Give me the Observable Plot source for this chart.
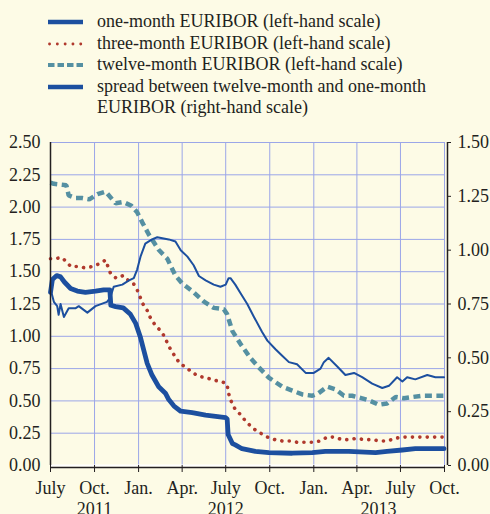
<!DOCTYPE html>
<html>
<head>
<meta charset="utf-8">
<script src="https://cdn.jsdelivr.net/npm/d3@7"></script>
<script src="https://cdn.jsdelivr.net/npm/@observablehq/plot@0.6"></script>
<style>
  html, body { margin: 0; padding: 0; background: #fdfbe6; }
  body { width: 490px; height: 514px; overflow: hidden; font-family: "Liberation Serif", serif; color: #231f20; }
  #legend { box-sizing: border-box; height: 128px; padding-top: 11px; font-size: 18px; line-height: 21.5px; }
  .row { display: flex; align-items: flex-start; margin-left: 48px; }
  .row svg { flex: none; margin-right: 14px; }
</style>
</head>
<body>
<div id="legend"></div>
<div id="chart"></div>
<script>
// ---- data ----
const oneMonth = [
  ["2011-07-01",1.34],["2011-07-05",1.44],["2011-07-14",1.47],["2011-07-22",1.46],["2011-07-30",1.42],
  ["2011-08-12",1.37],["2011-08-26",1.35],["2011-09-12",1.34],["2011-10-03",1.35],["2011-10-20",1.36],
  ["2011-11-02",1.36],["2011-11-04",1.24],["2011-11-14",1.23],["2011-11-30",1.22],["2011-12-15",1.17],
  ["2011-12-26",1.10],["2012-01-05",0.99],["2012-01-12",0.89],["2012-01-19",0.79],["2012-01-29",0.70],
  ["2012-02-12",0.61],["2012-02-26",0.56],["2012-03-04",0.51],["2012-03-15",0.46],["2012-03-29",0.42],
  ["2012-04-22",0.41],["2012-05-20",0.39],["2012-06-10",0.38],["2012-07-01",0.37],["2012-07-04",0.36],
  ["2012-07-06",0.24],["2012-07-15",0.17],["2012-07-21",0.16],["2012-08-04",0.13],["2012-09-01",0.11],
  ["2012-09-29",0.10],["2012-11-17",0.095],["2012-12-29",0.10],["2013-01-25",0.11],["2013-03-15",0.11],
  ["2013-05-10",0.10],["2013-06-03",0.11],["2013-07-05",0.12],["2013-08-01",0.13],["2013-09-30",0.13]
];
const threeMonth = [
  ["2011-07-01",1.60],["2011-07-10",1.60],["2011-07-24",1.61],["2011-08-03",1.58],["2011-08-12",1.54],
  ["2011-08-27",1.54],["2011-09-11",1.53],["2011-09-27",1.54],["2011-10-10",1.56],["2011-10-24",1.59],
  ["2011-11-03",1.49],["2011-11-15",1.45],["2011-11-30",1.47],["2011-12-08",1.44],["2011-12-21",1.41],
  ["2011-12-29",1.36],["2012-01-10",1.25],["2012-01-19",1.20],["2012-01-26",1.14],["2012-02-04",1.09],
  ["2012-02-14",1.05],["2012-02-24",1.00],["2012-03-02",0.94],["2012-03-09",0.89],["2012-03-18",0.84],
  ["2012-03-27",0.79],["2012-04-09",0.76],["2012-04-22",0.72],["2012-05-06",0.69],["2012-05-21",0.68],
  ["2012-06-06",0.66],["2012-06-22",0.65],["2012-07-04",0.63],["2012-07-06",0.57],["2012-07-11",0.51],
  ["2012-07-18",0.45],["2012-07-28",0.41],["2012-08-08",0.36],["2012-08-18",0.32],["2012-08-30",0.28],
  ["2012-09-12",0.25],["2012-09-26",0.22],["2012-10-12",0.20],["2012-10-27",0.19],["2012-11-12",0.19],
  ["2012-11-27",0.18],["2012-12-15",0.18],["2012-12-30",0.18],["2013-01-15",0.19],["2013-01-29",0.22],
  ["2013-02-13",0.22],["2013-03-01",0.20],["2013-03-15",0.20],["2013-03-31",0.21],["2013-04-17",0.20],
  ["2013-05-03",0.20],["2013-05-19",0.19],["2013-06-05",0.19],["2013-06-19",0.21],["2013-07-05",0.22],
  ["2013-07-21",0.22],["2013-08-06",0.22],["2013-08-22",0.22],["2013-09-09",0.22],["2013-09-30",0.22]
];
const twelveMonth = [
  ["2011-07-01",2.19],["2011-07-08",2.18],["2011-08-03",2.17],["2011-08-08",2.09],["2011-08-22",2.07],
  ["2011-09-05",2.07],["2011-09-20",2.06],["2011-10-07",2.10],["2011-10-24",2.12],["2011-11-14",2.03],
  ["2011-11-30",2.04],["2011-12-17",2.01],["2011-12-29",1.96],["2012-01-09",1.88],["2012-01-22",1.79],
  ["2012-02-12",1.67],["2012-03-01",1.60],["2012-03-18",1.47],["2012-04-01",1.41],["2012-04-25",1.34],
  ["2012-05-16",1.27],["2012-06-06",1.22],["2012-06-27",1.21],["2012-07-04",1.17],["2012-07-15",1.04],
  ["2012-08-01",0.94],["2012-08-22",0.83],["2012-09-08",0.76],["2012-09-29",0.68],["2012-10-27",0.61],
  ["2012-11-17",0.58],["2012-12-08",0.55],["2012-12-29",0.54],["2013-01-11",0.56],["2013-01-29",0.61],
  ["2013-02-15",0.59],["2013-03-05",0.54],["2013-03-22",0.54],["2013-04-12",0.52],["2013-04-29",0.50],
  ["2013-05-17",0.47],["2013-06-03",0.48],["2013-06-21",0.53],["2013-07-08",0.52],["2013-07-26",0.53],
  ["2013-08-15",0.54],["2013-09-02",0.54],["2013-09-30",0.54]
];
const spread = [
  ["2011-07-01",0.82],["2011-07-08",0.76],["2011-07-15",0.74],["2011-07-18",0.70],["2011-07-22",0.75],
  ["2011-07-29",0.69],["2011-08-08",0.73],["2011-08-22",0.73],["2011-08-29",0.74],["2011-09-16",0.71],
  ["2011-10-03",0.74],["2011-10-27",0.76],["2011-11-03",0.78],["2011-11-10",0.83],["2011-11-28",0.84],
  ["2011-12-12",0.86],["2011-12-22",0.87],["2011-12-29",0.91],["2012-01-05",0.97],["2012-01-15",1.03],
  ["2012-01-29",1.05],["2012-02-09",1.06],["2012-03-04",1.05],["2012-03-18",1.04],["2012-03-29",1.00],
  ["2012-04-12",0.97],["2012-04-25",0.93],["2012-05-06",0.88],["2012-05-20",0.86],["2012-06-06",0.84],
  ["2012-06-20",0.83],["2012-07-01",0.84],["2012-07-07",0.87],["2012-07-11",0.87],["2012-07-21",0.84],
  ["2012-08-01",0.80],["2012-08-15",0.75],["2012-08-29",0.69],["2012-09-15",0.62],["2012-09-26",0.58],
  ["2012-10-13",0.54],["2012-10-27",0.51],["2012-11-10",0.48],["2012-11-27",0.47],["2012-12-15",0.43],
  ["2013-01-01",0.43],["2013-01-15",0.45],["2013-01-22",0.48],["2013-02-01",0.50],["2013-02-19",0.46],
  ["2013-03-08",0.42],["2013-03-26",0.43],["2013-04-12",0.41],["2013-05-03",0.38],["2013-05-24",0.36],
  ["2013-06-07",0.37],["2013-06-24",0.41],["2013-07-05",0.39],["2013-07-15",0.41],["2013-08-01",0.40],
  ["2013-08-26",0.42],["2013-09-12",0.41],["2013-09-30",0.41]
];
const leftTicks = [0, 0.25, 0.5, 0.75, 1.0, 1.25, 1.5, 1.75, 2.0, 2.25, 2.5];
const rightTicks = [0, 0.25, 0.5, 0.75, 1.0, 1.25, 1.5];
const quarterTicks = ["2011-07-01","2011-10-01","2012-01-01","2012-04-01","2012-07-01","2012-10-01","2013-01-01","2013-04-01","2013-07-01","2013-10-01"];
const quarterLabels = ["July","Oct.","Jan.","Apr.","July","Oct.","Jan.","Apr.","July","Oct."];
const yearLabels = ["2011","2012","2013"];
const yearPositions = ["2011-10-01","2012-07-01","2013-05-16"];
const legendLabels = [
  "one-month EURIBOR (left-hand scale)",
  "three-month EURIBOR (left-hand scale)",
  "twelve-month EURIBOR (left-hand scale)",
  "spread between twelve-month and one-month<br>EURIBOR (right-hand scale)"
];

// ---- styles ----
const BLUE = "#1c4f9f", RED = "#b0392d", TEAL = "#5590a2", GRID = "#9ba6e8", INK = "#231f20";
const ratio = 2.5 / 1.5; // right-hand scale -> left-hand scale

// ---- legend ----
const swatches = [
  `<line x1="0" x2="35" y1="11" y2="11" stroke="${BLUE}" stroke-width="4.5"/>`,
  `<line x1="1.5" x2="35" y1="11" y2="11" stroke="${RED}" stroke-width="2.8" stroke-linecap="round" stroke-dasharray="0.1 7.7"/>`,
  `<line x1="0" x2="35" y1="11" y2="11" stroke="${TEAL}" stroke-width="4" stroke-dasharray="6.5 3"/>`,
  `<line x1="0" x2="35" y1="11" y2="11" stroke="${BLUE}" stroke-width="4.5"/>`
];
document.getElementById("legend").innerHTML = legendLabels.map((t, i) =>
  `<div class="row"><svg width="35" height="21.5">${swatches[i]}</svg><span>${t}</span></div>`).join("");

// ---- chart ----
const parse = d3.utcParse("%Y-%m-%d");
const toRows = (arr, k = 1) => arr.map(([d, v]) => ({date: parse(d), value: v * k}));
const qDates = quarterTicks.map(parse);
const x0 = qDates[0], x1 = qDates[qDates.length - 1];

const chart = Plot.plot({
  width: 490,
  height: 386,
  marginTop: 14,
  marginBottom: 49,
  marginLeft: 50,
  marginRight: 46,
  style: {background: "transparent", fontFamily: "Liberation Serif", fontSize: "18px", color: INK, overflow: "visible"},
  x: {type: "utc", domain: [x0, x1], label: null},
  y: {domain: [0, 2.5], label: null},
  marks: [
    Plot.gridX(qDates, {stroke: GRID, strokeOpacity: 1, strokeWidth: 1}),
    Plot.gridY(leftTicks, {stroke: GRID, strokeOpacity: 1, strokeWidth: 1}),
    Plot.ruleY([0], {stroke: "#ffffff", strokeWidth: 2}),
    Plot.line(toRows(twelveMonth), {x: "date", y: "value", stroke: TEAL, strokeWidth: 4.5, strokeLinecap: "butt", strokeLinejoin: "miter", strokeDasharray: "7 4.5"}),
    Plot.line(toRows(threeMonth), {x: "date", y: "value", stroke: RED, strokeWidth: 3.6, strokeLinecap: "round", strokeDasharray: "0.1 7.3"}),
    Plot.line(toRows(spread, ratio), {x: "date", y: "value", stroke: BLUE, strokeWidth: 2}),
    Plot.line(toRows(oneMonth), {x: "date", y: "value", stroke: BLUE, strokeWidth: 4.8}),
    Plot.ruleX([x0], {stroke: INK, strokeWidth: 1.5}),
    Plot.ruleX([x1], {stroke: INK, strokeWidth: 1.5, dx: 3}),
    Plot.ruleY([0], {stroke: INK, strokeWidth: 1.5, dy: 2}),
    Plot.axisY(leftTicks, {anchor: "left", label: null, tickSize: 0, tickPadding: 10, tickFormat: d => d.toFixed(2), fontSize: 18, fill: INK}),
    Plot.axisY(rightTicks.map(v => v * ratio), {anchor: "right", label: null, dx: 3, tickSize: 3, tickPadding: 7, tickFormat: d => (d / ratio).toFixed(2), fontSize: 18, fill: INK, stroke: INK}),
    Plot.axisX(qDates, {anchor: "bottom", label: null, tickSize: 7, tickPadding: 9, tickFormat: (d, i) => quarterLabels[i], fontSize: 18, fill: INK, stroke: INK}),
    Plot.text(yearLabels, {x: (d, i) => parse(yearPositions[i]), text: d => d, frameAnchor: "bottom", lineAnchor: "top", dy: 37, fontSize: 18, fill: INK})
  ]
});
document.getElementById("chart").appendChild(chart);
</script>
</body>
</html>
